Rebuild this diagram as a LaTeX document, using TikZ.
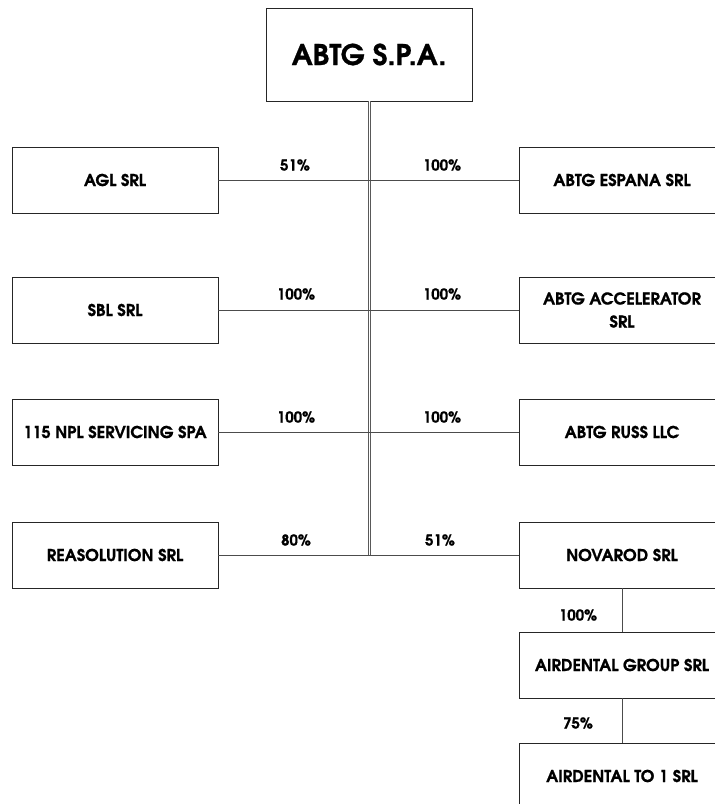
\documentclass[tikz,border=0pt]{standalone}
\usepackage{fontspec}
\setmainfont{TeX Gyre Adventor}[BoldFeatures={FakeBold=0.8}]
\begin{document}
\begin{tikzpicture}[x=1pt,y=-1pt,
  box/.style={draw=black!85, line width=0.9pt, fill=white, minimum width=206pt, minimum height=66pt,
    inner sep=0pt, font=\bfseries\fontsize{16.3}{23}\selectfont, align=center},
  pct/.style={font=\bfseries\fontsize{15}{17}\selectfont, inner sep=1pt},
  link/.style={draw=black!70, line width=1pt}]
\useasboundingbox (0,0) rectangle (715,804);
\clip (0,0) rectangle (715,804);
% top
\node[box, minimum height=93pt, font=\bfseries\fontsize{28.5}{32}\selectfont] (top) at (369,54.5) {ABTG S.P.A.};
% left
\node[box] (agl) at (115,180) {AGL SRL};
\node[box] (sbl) at (115,310) {SBL SRL};
\node[box] (npl) at (115,432) {115 NPL SERVICING SPA};
\node[box] (rea) at (115,555) {REASOLUTION SRL};
% right
\node[box] (esp) at (622,180) {ABTG ESPANA SRL};
\node[box] (acc) at (622,310) {ABTG ACCELERATOR\\SRL};
\node[box] (rus) at (622,432) {ABTG RUSS LLC};
\node[box] (nov) at (622,555) {NOVAROD SRL};
\node[box] (adg) at (622,665) {AIRDENTAL GROUP SRL};
\node[box] (ad1) at (622,776) {AIRDENTAL TO 1 SRL};
% trunk
\coordinate (jb) at (369.5,555.5);
\draw[draw=black!65, line width=0.8pt, double=white, double distance=1.7pt] (top.south -| jb) -- (jb);
% links
\draw[link] (agl.east) -- (esp.west);
\draw[link] (sbl.east) -- (acc.west);
\draw[link] (npl.east) -- (rus.west);
\draw[link] (rea.east) -- (nov.west);
\draw[link] (nov.south) -- (adg.north);
\draw[link] (adg.south) -- (ad1.north);
% labels
\node[pct] (p1l) at (295,165) {51\%};
\node[pct] (p1r) at (442,165) {100\%};
\node[pct] (p2l) at (296,294) {100\%};
\node[pct] (p2r) at (442,294) {100\%};
\node[pct] (p3l) at (296,417) {100\%};
\node[pct] (p3r) at (442,417) {100\%};
\node[pct] (p4l) at (296,540) {80\%};
\node[pct] (p4r) at (440,540) {51\%};
\node[pct] (p5) at (578,615) {100\%};
\node[pct] (p6) at (578,723) {75\%};
\end{tikzpicture}
\end{document}
